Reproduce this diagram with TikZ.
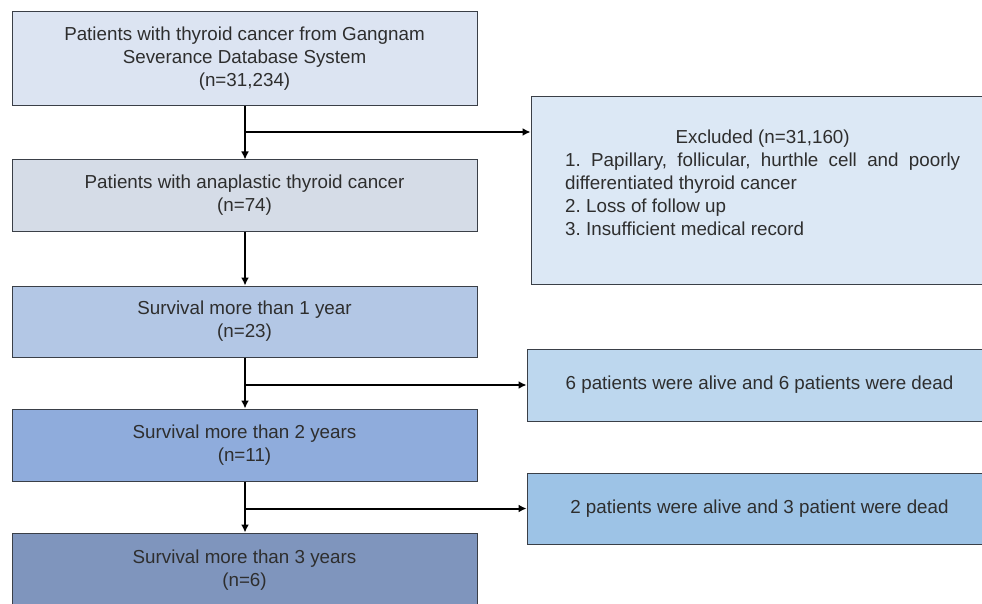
\documentclass[tikz,border=0pt]{standalone}
\usepackage{fontspec}
\setmainfont{Liberation Sans}
\usetikzlibrary{arrows.meta}
\definecolor{txt}{HTML}{2E2E2E}
\definecolor{bord}{HTML}{3A3F47}
\definecolor{cA}{HTML}{DCE4F2}
\definecolor{cB}{HTML}{D5DCE7}
\definecolor{cC}{HTML}{B3C7E5}
\definecolor{cD}{HTML}{8FACDC}
\definecolor{cE}{HTML}{7F95BD}
\definecolor{cR}{HTML}{DCE8F5}
\definecolor{cS}{HTML}{BDD7EE}
\definecolor{cT}{HTML}{9DC3E6}
\tikzset{
  box/.style={draw=bord, line width=1pt, rectangle, minimum width=465pt, inner sep=0pt,
    align=center, text=txt, font=\fontsize{18.8}{23}\selectfont},
  conn/.style={line width=2pt, draw=black},
  arr/.style={conn, -{Latex[length=8pt,width=8pt]}},
  txtnode/.style={text=txt, inner sep=0pt, align=left, font=\fontsize{18.8}{23}\selectfont}
}
\frenchspacing
\begin{document}
\begin{tikzpicture}[x=1pt,y=-1pt]
\useasboundingbox (0,0) rectangle (982,604);
\clip (0,0) rectangle (982,604);
\fill[white] (0,0) rectangle (982,604);
% left column
\node[box, fill=cA, minimum height=94pt] (b1) at (244.5,59) {Patients with thyroid cancer from Gangnam\\Severance Database System\\(n=31,234)};
\node[box, fill=cB, minimum height=71pt] (b2) at (244.5,195.5) {Patients with anaplastic thyroid cancer\\(n=74)};
\node[box, fill=cC, minimum height=71pt] (b3) at (244.5,321.5) {Survival more than 1 year\\(n=23)};
\node[box, fill=cD, minimum height=72pt] (b4) at (244.5,445) {Survival more than 2 years\\(n=11)};
\node[box, fill=cE, minimum height=74pt] (b5) at (244.5,570) {Survival more than 3 years\\(n=6)};
% right column
\node[box, fill=cR, minimum height=187pt] (r1) at (763.5,190.5) {};
\node[txtnode, anchor=north west] (r1t) at (565,130) {%
  \makebox[395pt][c]{Excluded (n=31,160)}\\
  \makebox[395pt][s]{1. Papillary, follicular, hurthle cell and poorly}\\
  differentiated thyroid cancer\\
  2. Loss of follow up\\
  3. Insufficient medical record};
\node[box, fill=cS, minimum height=72pt] (r2) at (759.5,385) {6 patients were alive and 6 patients were dead};
\node[box, fill=cT, minimum height=71pt] (r3) at (759.5,508.5) {2 patients were alive and 3 patient were dead};
% connectors
\coordinate (j1) at (245,132);
\draw[arr] (b1.south -| j1) -- (b2.north -| j1);
\draw[arr] (j1) -- (j1 -| r1.west);
\draw[arr] (b2.south -| j1) -- (b3.north -| j1);
\draw[arr] (b3.south -| j1) -- (b4.north -| j1);
\draw[arr] (j1 |- r2.west) -- (r2.west);
\draw[arr] (b4.south -| j1) -- (b5.north -| j1);
\draw[arr] (j1 |- r3.west) -- (r3.west);
\end{tikzpicture}
\end{document}
